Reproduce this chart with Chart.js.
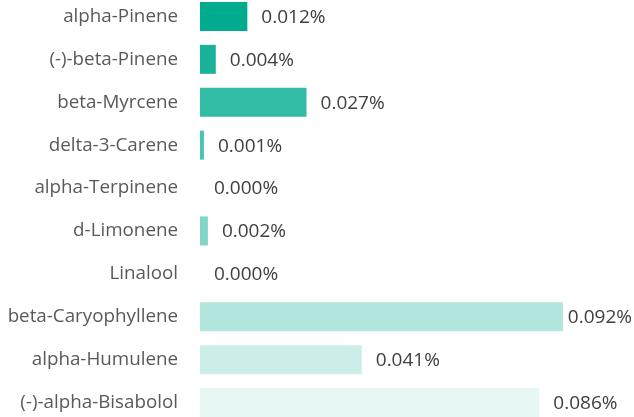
<!DOCTYPE html>
<html>
<head>
<meta charset="utf-8">
<script src="https://cdn.jsdelivr.net/npm/chart.js@4"></script>
<style>
  html, body { margin: 0; padding: 0; background: #fff; overflow: hidden; }
  #terpenes { position: absolute; left: 0; top: -5px; }
</style>
</head>
<body>
<canvas id="terpenes" width="634" height="429"></canvas>
<script>
const categories = ['alpha-Pinene', '(-)-beta-Pinene', 'beta-Myrcene', 'delta-3-Carene', 'alpha-Terpinene',
  'd-Limonene', 'Linalool', 'beta-Caryophyllene', 'alpha-Humulene', '(-)-alpha-Bisabolol'];
const values = [0.012, 0.004, 0.027, 0.001, 0.000, 0.002, 0.000, 0.092, 0.041, 0.086];
const colors = ['#00ab8e', '#1ab399', '#33bca5', '#4dc4b0', '#66cdbb', '#80d5c7', '#99ddd2', '#b3e6dd', '#cceee8', '#e6f7f4'];

// value labels next to each bar, pulled back inside if they would run off the edge
const valueLabels = {
  id: 'valueLabels',
  afterDatasetsDraw(chart) {
    const c = chart.ctx;
    const meta = chart.getDatasetMeta(0);
    c.save();
    c.font = '19px "Open Sans"';
    c.fillStyle = '#404040';
    c.textAlign = 'left';
    c.textBaseline = 'middle';
    meta.data.forEach((bar, i) => {
      const txt = values[i].toFixed(3) + '%';
      const w = c.measureText(txt).width;
      const x = Math.min(bar.x + 14, chart.width - w - 2);
      c.fillText(txt, x, bar.y + 1);
    });
    c.restore();
  }
};

const ctx = document.getElementById('terpenes').getContext('2d');
new Chart(ctx, {
  type: 'bar',
  data: {
    labels: categories,
    datasets: [{
      data: values,
      backgroundColor: colors,
      barPercentage: 0.676,
      categoryPercentage: 1
    }]
  },
  options: {
    indexAxis: 'y',
    responsive: false,
    animation: false,
    layout: { padding: 0 },
    plugins: {
      legend: { display: false },
      tooltip: { enabled: false }
    },
    scales: {
      x: {
        display: false,
        min: 0,
        max: 0.11
      },
      y: {
        grid: { display: false, drawTicks: false },
        border: { display: false },
        ticks: {
          padding: 22,
          color: '#595959',
          font: { family: 'Open Sans', size: 18.8 }
        },
        afterFit(scale) {
          scale.width = 200;
          scale.paddingTop = 0;
          scale.paddingBottom = 0;
        }
      }
    }
  },
  plugins: [valueLabels]
});
</script>
</body>
</html>
